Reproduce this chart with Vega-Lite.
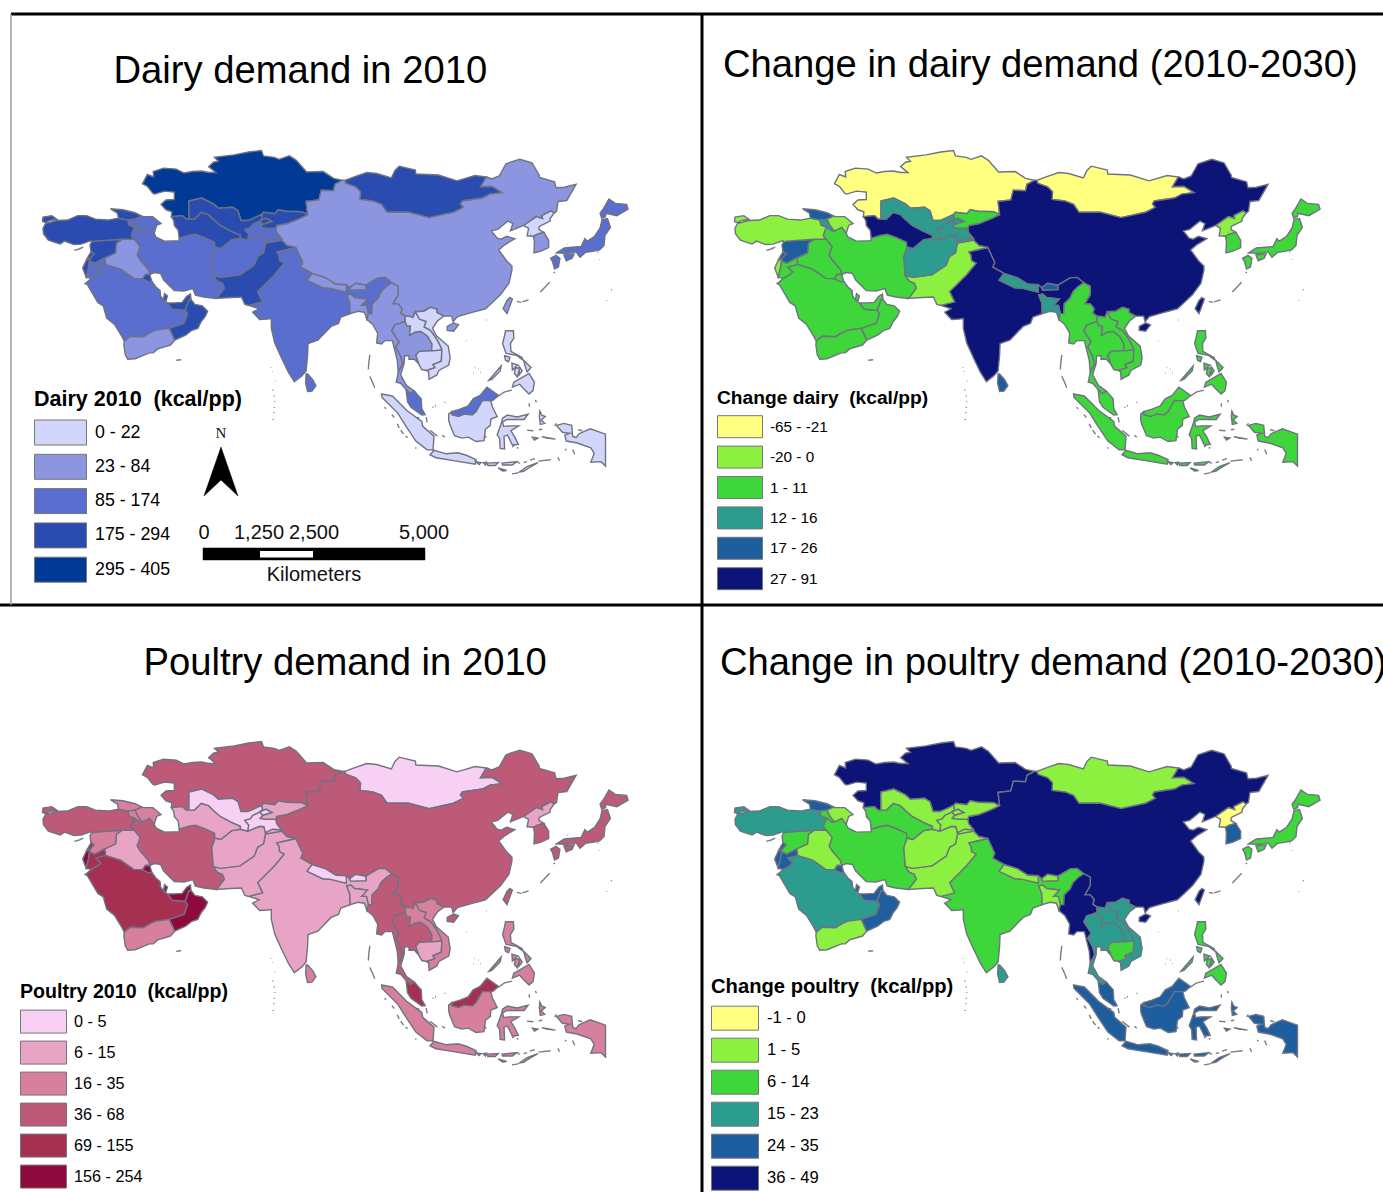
{"$schema":"https://vega.github.io/schema/vega-lite/v6.json","background":"white","padding":0,"spacing":0,"bounds":"flush","columns":2,"resolve":{"scale":{"color":"independent"},"legend":{"color":"independent"}},"config":{"view":{"stroke":null},"font":"Liberation Sans"},
"datasets":{
"countries":[
{"type":"Feature","name":"Kazakhstan","dairy":"295 - 405","dchg":"-65 - -21","poultry":"36 - 68","pchg":"36 - 49","geometry":{"type":"Polygon","coordinates":[[[46.5,48.5],[47.5,50.4],[48.8,49.9],[48.7,51.0],[50.8,51.7],[53.4,51.5],[55.0,50.7],[56.7,51.0],[58.5,51.1],[60.0,50.8],[61.5,50.8],[60.0,52.0],[61.0,52.9],[62.0,53.1],[61.2,53.9],[65.2,54.4],[68.2,55.0],[70.8,55.3],[71.2,54.2],[73.4,53.9],[74.4,53.5],[76.5,54.2],[77.9,53.3],[80.0,50.9],[83.4,51.0],[85.5,49.6],[87.3,49.2],[85.8,48.4],[85.5,47.1],[83.0,47.2],[82.5,45.2],[79.9,44.9],[80.2,42.2],[79.0,42.8],[75.8,42.9],[74.2,43.2],[73.5,42.4],[71.2,42.7],[70.9,42.3],[69.0,41.4],[68.0,41.0],[66.6,41.0],[66.0,43.0],[64.9,43.7],[62.0,43.5],[61.0,44.4],[58.6,45.6],[56.0,45.0],[56.0,41.3],[55.4,41.3],[54.7,42.0],[52.4,41.8],[52.5,42.8],[51.3,43.2],[50.3,44.3],[51.3,45.2],[53.0,45.3],[53.0,46.8],[51.0,47.0],[49.0,46.4],[48.6,46.6],[47.5,48.0],[46.5,48.5]]]}},
{"type":"Feature","name":"Mongolia","dairy":"175 - 294","dchg":"-65 - -21","poultry":"0 - 5","pchg":"1 - 5","geometry":{"type":"Polygon","coordinates":[[[87.8,49.2],[90,50.0],[92.3,50.8],[94.3,50.6],[97.3,49.7],[98.0,51.2],[98.9,52.1],[102.2,51.3],[102.3,50.5],[106.9,50.3],[110.7,49.1],[114.4,50.2],[116.7,49.9],[115.5,47.9],[117.8,48.0],[119.9,46.7],[117.4,46.4],[115.9,45.6],[111.8,45.0],[111.4,44.4],[112.0,43.7],[110.0,42.7],[105.0,41.6],[100.8,42.7],[96.4,42.7],[95.3,44.3],[93.5,45.0],[90.9,45.3],[91.0,46.9],[90.0,47.9],[88.0,48.6],[87.8,49.2]]]}},
{"type":"Feature","name":"China","dairy":"23 - 84","dchg":"27 - 91","poultry":"36 - 68","pchg":"36 - 49","geometry":{"type":"MultiPolygon","coordinates":[[[[87.3,49.2],[87.8,49.2],[88.0,48.6],[90.0,47.9],[91.0,46.9],[90.9,45.3],[93.5,45.0],[95.3,44.3],[96.4,42.7],[100.8,42.7],[105.0,41.6],[110.0,42.7],[112.0,43.7],[111.4,44.4],[111.8,45.0],[115.9,45.6],[117.4,46.4],[119.9,46.7],[117.8,48.0],[115.5,47.9],[116.7,49.9],[117.8,49.5],[119.3,50.1],[120.7,52.6],[123.5,53.5],[126.0,52.8],[127.5,50.2],[127.5,49.8],[130.6,48.9],[130.9,47.7],[132.6,47.8],[135.0,48.4],[133.1,45.1],[131.3,44.9],[131.0,42.9],[130.5,42.5],[129.9,43.0],[128.0,42.0],[128.2,41.4],[126.9,41.8],[124.3,40.0],[121.6,38.9],[122.1,40.4],[121.1,40.9],[119.0,39.2],[117.7,38.9],[118.9,37.4],[119.7,37.2],[120.8,37.8],[122.5,37.3],[120.5,36.1],[119.2,35.0],[120.8,32.8],[121.9,31.7],[121.9,30.9],[121.3,28.2],[119.6,25.9],[118.0,24.4],[116.5,23.0],[113.6,22.2],[110.8,21.4],[109.9,20.4],[109.6,21.5],[108.0,21.5],[106.6,22.2],[106.6,22.9],[105.3,23.3],[103.9,22.5],[102.2,22.4],[101.7,21.2],[101.2,21.4],[100.1,21.5],[99.2,22.1],[99.5,23.0],[98.7,24.0],[97.6,24.0],[98.7,25.9],[98.7,27.6],[97.4,28.3],[96.0,29.4],[94.6,29.3],[92.1,27.8],[90.0,28.2],[88.8,27.3],[88.1,27.9],[86.0,28.0],[83.9,29.3],[81.1,30.2],[78.8,31.5],[79.2,32.5],[78.7,33.5],[77.8,35.5],[76.0,35.9],[74.9,37.0],[74.9,37.3],[73.9,38.5],[73.7,39.4],[73.9,40.0],[76.0,40.4],[78.5,41.4],[80.2,42.2],[79.9,44.9],[82.5,45.2],[83.0,47.2],[85.5,47.1],[85.8,48.4],[87.3,49.2]]],[[[110.0,20.1],[111.0,19.7],[110.0,18.4],[108.7,18.6],[108.7,19.4],[110.0,20.1]]]]}},
{"type":"Feature","name":"India","dairy":"85 - 174","dchg":"27 - 91","poultry":"6 - 15","pchg":"6 - 14","geometry":{"type":"Polygon","coordinates":[[[77.8,35.5],[78.7,33.5],[79.2,32.5],[78.8,31.5],[81.1,30.2],[80.1,28.8],[83.3,27.3],[84.7,27.2],[88.1,26.4],[88.1,27.9],[88.8,27.3],[89.0,26.8],[92.1,26.9],[92.1,27.8],[94.6,29.3],[96.0,29.4],[97.4,28.3],[96.2,27.5],[95.2,26.5],[94.6,25.2],[93.4,24.0],[93.3,22.0],[92.6,22.0],[92.2,23.7],[91.2,23.7],[91.7,24.2],[92.4,25.0],[89.8,25.3],[89.0,26.0],[88.2,25.8],[88.8,24.3],[88.9,22.0],[87.0,21.3],[86.5,20.0],[85.0,19.4],[82.3,16.6],[80.3,15.9],[80.2,13.5],[79.9,10.3],[79.0,9.3],[77.5,8.1],[76.3,10.0],[74.9,12.9],[73.5,16.0],[72.8,19.0],[72.8,21.0],[72.0,20.9],[70.4,20.8],[69.0,22.3],[70.3,23.0],[68.2,23.7],[71.0,24.4],[70.0,26.5],[73.4,29.9],[75.4,32.3],[74.5,32.8],[74.3,34.0],[73.9,34.6],[75.5,35.0],[77.8,35.5]]]}},
{"type":"Feature","name":"Pakistan","dairy":"175 - 294","dchg":"-20 - 0","poultry":"6 - 15","pchg":"1 - 5","geometry":{"type":"Polygon","coordinates":[[[74.9,37.0],[71.6,36.4],[71.2,34.4],[70.0,33.7],[69.3,31.9],[66.4,29.9],[62.5,29.4],[60.9,29.8],[61.8,28.6],[62.8,28.2],[63.2,27.2],[61.6,25.1],[64.5,25.3],[66.7,25.4],[67.4,23.9],[68.2,23.7],[71.0,24.4],[70.0,26.5],[73.4,29.9],[75.4,32.3],[74.5,32.8],[74.3,34.0],[73.9,34.6],[75.5,35.0],[77.8,35.5],[76.0,35.9],[74.9,37.0]]]}},
{"type":"Feature","name":"Afghanistan","dairy":"85 - 174","dchg":"12 - 16","poultry":"6 - 15","pchg":"1 - 5","geometry":{"type":"Polygon","coordinates":[[[74.9,37.3],[73.0,37.4],[71.6,36.7],[71.3,37.9],[70.4,38.0],[68.0,37.0],[66.5,37.4],[64.7,37.1],[62.5,35.3],[61.3,35.6],[60.6,33.6],[60.8,31.5],[60.9,29.8],[62.5,29.4],[66.4,29.9],[69.3,31.9],[70.0,33.7],[71.2,34.4],[71.6,36.4],[74.9,37.0],[74.9,37.3]]]}},
{"type":"Feature","name":"Iran","dairy":"85 - 174","dchg":"1 - 11","poultry":"36 - 68","pchg":"6 - 14","geometry":{"type":"Polygon","coordinates":[[[44.8,39.7],[46.0,38.9],[46.5,38.9],[48.0,39.6],[48.9,38.4],[49.3,37.6],[51.0,36.8],[54.0,36.9],[54.0,37.4],[56.0,38.0],[57.3,38.2],[59.2,37.5],[61.2,36.6],[61.3,35.6],[60.6,33.6],[60.8,31.5],[60.9,29.8],[61.8,28.6],[62.8,28.2],[63.2,27.2],[61.6,25.1],[59.0,25.4],[57.3,25.8],[56.8,27.1],[55.0,26.6],[53.0,26.7],[50.8,28.9],[50.2,30.2],[48.9,30.4],[48.0,30.0],[47.7,31.0],[46.0,33.0],[45.4,34.0],[46.0,35.7],[44.8,37.2],[44.2,37.9],[44.8,39.7]]]}},
{"type":"Feature","name":"Iraq","dairy":"23 - 84","dchg":"1 - 11","poultry":"6 - 15","pchg":"1 - 5","geometry":{"type":"Polygon","coordinates":[[[42.4,37.2],[44.8,37.2],[46.0,35.7],[45.4,34.0],[46.0,33.0],[47.7,31.0],[48.0,30.0],[47.1,30.0],[46.5,29.1],[44.7,29.2],[42.0,31.1],[39.0,32.0],[38.8,33.4],[41.0,34.4],[41.2,36.4],[42.4,37.2]]]}},
{"type":"Feature","name":"Syria","dairy":"175 - 294","dchg":"17 - 26","poultry":"16 - 35","pchg":"6 - 14","geometry":{"type":"Polygon","coordinates":[[[36.7,36.8],[42.4,37.2],[41.2,36.4],[41.0,34.4],[38.8,33.4],[36.8,32.3],[35.8,32.7],[35.8,33.3],[36.6,34.2],[36.0,34.6],[35.8,36.0],[36.1,36.6],[36.7,36.8]]]}},
{"type":"Feature","name":"Jordan","dairy":"85 - 174","dchg":"1 - 11","poultry":"69 - 155","pchg":"24 - 35","geometry":{"type":"Polygon","coordinates":[[[38.8,33.4],[39.0,32.0],[37.0,31.5],[38.0,30.5],[37.5,30.0],[36.1,29.2],[35.0,29.4],[35.5,31.5],[35.6,32.6],[35.8,32.7],[36.8,32.3],[38.8,33.4]]]}},
{"type":"Feature","name":"Israel","dairy":"175 - 294","dchg":"-20 - 0","poultry":"156 - 254","pchg":"24 - 35","geometry":{"type":"Polygon","coordinates":[[[35.6,33.2],[35.8,32.7],[35.6,32.6],[35.5,31.5],[35.0,29.5],[34.3,31.3],[35.0,32.8],[35.6,33.2]]]}},
{"type":"Feature","name":"Lebanon","dairy":"175 - 294","dchg":"17 - 26","poultry":"69 - 155","pchg":"24 - 35","geometry":{"type":"Polygon","coordinates":[[[36.0,34.6],[36.6,34.2],[35.8,33.3],[35.1,33.1],[36.0,34.6]]]}},
{"type":"Feature","name":"Kuwait","dairy":"175 - 294","dchg":"1 - 11","poultry":"156 - 254","pchg":"24 - 35","geometry":{"type":"Polygon","coordinates":[[[47.1,30.0],[48.0,30.0],[48.4,28.6],[47.7,28.5],[46.5,29.1],[47.1,30.0]]]}},
{"type":"Feature","name":"Saudi Arabia","dairy":"85 - 174","dchg":"1 - 11","poultry":"69 - 155","pchg":"15 - 23","geometry":{"type":"Polygon","coordinates":[[[36.1,29.2],[37.5,30.0],[38.0,30.5],[37.0,31.5],[39.0,32.0],[42.0,31.1],[44.7,29.2],[46.5,29.1],[47.7,28.5],[48.4,28.6],[49.2,27.5],[50.1,26.7],[50.2,25.6],[50.8,24.8],[51.6,24.2],[52.6,22.9],[55.2,22.7],[55.7,22.0],[55.0,20.0],[52.0,19.0],[49.1,18.6],[48.2,18.2],[46.7,17.3],[44.0,17.4],[43.2,16.7],[42.8,16.4],[42.2,17.5],[40.8,19.8],[39.2,21.1],[38.5,23.6],[37.4,24.3],[35.2,28.0],[34.8,28.1],[36.1,29.2]]]}},
{"type":"Feature","name":"Yemen","dairy":"23 - 84","dchg":"1 - 11","poultry":"16 - 35","pchg":"1 - 5","geometry":{"type":"Polygon","coordinates":[[[42.8,16.4],[43.2,16.7],[44.0,17.4],[46.7,17.3],[48.2,18.2],[49.1,18.6],[52.0,19.0],[53.1,16.6],[52.2,15.6],[49.6,14.8],[48.7,14.0],[47.9,14.0],[45.0,12.8],[43.5,12.7],[43.0,13.6],[42.7,15.7],[42.8,16.4]]]}},
{"type":"Feature","name":"Oman","dairy":"175 - 294","dchg":"1 - 11","poultry":"156 - 254","pchg":"24 - 35","geometry":{"type":"Polygon","coordinates":[[[56.4,24.9],[57.2,23.9],[58.7,23.6],[59.8,22.5],[59.3,21.4],[58.5,20.4],[57.8,19.0],[56.6,18.6],[55.3,17.6],[53.1,16.6],[52.0,19.0],[55.0,20.0],[55.7,22.0],[55.2,22.7],[56.0,24.9],[56.4,24.9]]]}},
{"type":"Feature","name":"United Arab Emirates","dairy":"175 - 294","dchg":"1 - 11","poultry":"156 - 254","pchg":"24 - 35","geometry":{"type":"Polygon","coordinates":[[[51.6,24.2],[53.0,24.2],[54.6,24.3],[55.5,25.5],[56.3,26.0],[56.4,24.9],[56.0,24.9],[55.2,22.7],[52.6,22.9],[51.6,24.2]]]}},
{"type":"Feature","name":"Qatar","dairy":"175 - 294","dchg":"1 - 11","poultry":"156 - 254","pchg":"24 - 35","geometry":{"type":"Polygon","coordinates":[[[50.8,24.8],[51.0,26.1],[51.6,25.6],[51.3,24.6],[50.8,24.8]]]}},
{"type":"Feature","name":"Turkey","dairy":"175 - 294","dchg":"-20 - 0","poultry":"36 - 68","pchg":"15 - 23","geometry":{"type":"MultiPolygon","coordinates":[[[[26.2,39.4],[26.7,40.4],[29.0,41.0],[31.2,41.1],[33.3,42.0],[35.1,42.0],[36.9,41.3],[39.5,41.1],[41.6,41.5],[43.6,41.1],[43.7,40.1],[44.8,39.7],[44.2,37.9],[44.8,37.2],[42.4,37.2],[36.7,36.8],[36.1,36.6],[36.0,36.9],[34.0,36.2],[32.5,36.1],[30.6,36.8],[29.7,36.2],[28.2,36.7],[27.3,37.0],[26.3,38.3],[26.2,39.4]]],[[[26.1,40.8],[26.2,41.7],[28.0,42.0],[29.0,41.3],[27.5,41.0],[26.7,40.6],[26.1,40.8]]]]}},
{"type":"Feature","name":"Georgia","dairy":"175 - 294","dchg":"17 - 26","poultry":"16 - 35","pchg":"24 - 35","geometry":{"type":"Polygon","coordinates":[[[40.0,43.4],[42.5,43.2],[45.0,42.6],[46.4,41.9],[45.0,41.3],[43.6,41.1],[41.6,41.5],[41.4,42.5],[40.0,43.4]]]}},
{"type":"Feature","name":"Armenia","dairy":"85 - 174","dchg":"12 - 16","poultry":"16 - 35","pchg":"6 - 14","geometry":{"type":"Polygon","coordinates":[[[43.6,41.1],[45.0,41.3],[45.6,40.0],[46.5,38.9],[46.0,38.9],[44.8,39.7],[43.7,40.1],[43.6,41.1]]]}},
{"type":"Feature","name":"Azerbaijan","dairy":"85 - 174","dchg":"-20 - 0","poultry":"16 - 35","pchg":"1 - 5","geometry":{"type":"Polygon","coordinates":[[[45.0,41.3],[46.4,41.9],[46.7,41.8],[48.6,41.8],[50.3,40.4],[49.4,40.0],[48.9,38.4],[48.0,39.6],[46.5,38.9],[45.6,40.0],[45.0,41.3]]]}},
{"type":"Feature","name":"Turkmenistan","dairy":"175 - 294","dchg":"27 - 91","poultry":"6 - 15","pchg":"6 - 14","geometry":{"type":"Polygon","coordinates":[[[52.4,41.8],[54.7,42.0],[55.4,41.3],[56.0,41.3],[57.1,41.3],[58.5,42.7],[60.0,42.2],[61.0,41.2],[62.4,40.0],[64.5,38.9],[66.5,38.0],[66.5,37.4],[64.7,37.1],[62.5,35.3],[61.3,35.6],[61.2,36.6],[59.2,37.5],[57.3,38.2],[56.0,38.0],[54.0,37.4],[53.8,39.0],[53.0,40.0],[52.9,41.0],[52.4,41.8]]]}},
{"type":"Feature","name":"Uzbekistan","dairy":"175 - 294","dchg":"12 - 16","poultry":"0 - 5","pchg":"1 - 5","geometry":{"type":"Polygon","coordinates":[[[56.0,45.0],[58.6,45.6],[61.0,44.4],[62.0,43.5],[64.9,43.7],[66.0,43.0],[66.6,41.0],[68.0,41.0],[69.0,41.4],[70.9,42.3],[71.0,41.2],[70.4,41.0],[71.7,41.5],[73.0,40.8],[71.0,40.2],[70.5,40.9],[69.0,40.2],[68.5,39.5],[67.4,39.2],[68.2,38.2],[68.0,37.0],[66.5,37.4],[66.5,38.0],[64.5,38.9],[62.4,40.0],[61.0,41.2],[60.0,42.2],[58.5,42.7],[57.1,41.3],[56.0,41.3],[56.0,45.0]]]}},
{"type":"Feature","name":"Kyrgyzstan","dairy":"175 - 294","dchg":"1 - 11","poultry":"6 - 15","pchg":"1 - 5","geometry":{"type":"Polygon","coordinates":[[[70.9,42.3],[71.2,42.7],[73.5,42.4],[74.2,43.2],[75.8,42.9],[79.0,42.8],[80.2,42.2],[78.5,41.4],[76.0,40.4],[73.9,40.0],[73.7,39.4],[71.7,39.4],[70.5,39.6],[71.0,40.2],[73.0,40.8],[71.7,41.5],[70.4,41.0],[71.0,41.2],[70.9,42.3]]]}},
{"type":"Feature","name":"Tajikistan","dairy":"85 - 174","dchg":"12 - 16","poultry":"0 - 5","pchg":"1 - 5","geometry":{"type":"Polygon","coordinates":[[[69.0,40.2],[70.5,40.9],[71.0,40.2],[70.5,39.6],[71.7,39.4],[73.7,39.4],[73.9,38.5],[74.9,37.3],[73.0,37.4],[71.6,36.7],[71.3,37.9],[70.4,38.0],[68.0,37.0],[68.2,38.2],[67.4,39.2],[68.5,39.5],[69.0,40.2]]]}},
{"type":"Feature","name":"Nepal","dairy":"23 - 84","dchg":"12 - 16","poultry":"0 - 5","pchg":"1 - 5","geometry":{"type":"Polygon","coordinates":[[[80.1,28.8],[81.1,30.2],[83.9,29.3],[86.0,28.0],[88.1,27.9],[88.1,26.4],[84.7,27.2],[83.3,27.3],[80.1,28.8]]]}},
{"type":"Feature","name":"Bhutan","dairy":"23 - 84","dchg":"17 - 26","poultry":"0 - 5","pchg":"1 - 5","geometry":{"type":"Polygon","coordinates":[[[88.8,27.3],[90.0,28.2],[92.1,27.8],[92.1,26.9],[89.0,26.8],[88.8,27.3]]]}},
{"type":"Feature","name":"Bangladesh","dairy":"23 - 84","dchg":"12 - 16","poultry":"6 - 15","pchg":"1 - 5","geometry":{"type":"Polygon","coordinates":[[[88.2,25.8],[89.0,26.0],[89.8,25.3],[92.4,25.0],[91.7,24.2],[91.2,23.7],[92.2,23.7],[92.6,22.0],[92.3,20.8],[91.8,22.3],[90.5,22.5],[88.9,22.0],[88.8,24.3],[88.2,25.8]]]}},
{"type":"Feature","name":"Sri Lanka","dairy":"85 - 174","dchg":"17 - 26","poultry":"16 - 35","pchg":"15 - 23","geometry":{"type":"Polygon","coordinates":[[[79.9,9.7],[80.2,9.7],[81.2,8.6],[81.9,7.3],[81.1,6.2],[80.2,6.1],[79.8,7.8],[79.9,9.7]]]}},
{"type":"Feature","name":"Myanmar","dairy":"23 - 84","dchg":"1 - 11","poultry":"36 - 68","pchg":"36 - 49","geometry":{"type":"Polygon","coordinates":[[[97.4,28.3],[98.7,27.6],[98.7,25.9],[97.6,24.0],[98.7,24.0],[99.5,23.0],[99.2,22.1],[100.1,21.5],[100.1,20.4],[99.0,20.0],[98.0,19.7],[97.4,18.5],[98.9,16.2],[98.2,15.2],[99.2,13.3],[99.6,11.8],[98.7,10.0],[98.5,12.5],[98.0,14.5],[97.5,16.5],[96.0,16.5],[95.3,15.8],[94.3,16.0],[94.5,18.0],[93.5,19.8],[92.3,20.8],[92.6,22.0],[93.3,22.0],[93.4,24.0],[94.6,25.2],[95.2,26.5],[96.2,27.5],[97.4,28.3]]]}},
{"type":"Feature","name":"Thailand","dairy":"23 - 84","dchg":"1 - 11","poultry":"36 - 68","pchg":"15 - 23","geometry":{"type":"Polygon","coordinates":[[[100.1,20.4],[100.5,19.5],[101.2,19.5],[101.0,17.6],[102.1,18.2],[103.3,18.4],[104.7,17.4],[105.6,15.8],[105.5,14.4],[103.0,14.3],[102.3,13.5],[102.9,11.7],[102.0,12.7],[100.9,12.7],[100.9,13.4],[100.0,13.4],[99.9,11.8],[99.2,9.5],[100.4,7.3],[101.0,6.9],[102.0,6.2],[101.1,5.7],[100.3,6.5],[99.2,7.8],[98.3,8.0],[98.7,10.0],[99.6,11.8],[99.2,13.3],[98.2,15.2],[98.9,16.2],[97.4,18.5],[98.0,19.7],[99.0,20.0],[100.1,20.4]]]}},
{"type":"Feature","name":"Laos","dairy":"0 - 22","dchg":"1 - 11","poultry":"16 - 35","pchg":"15 - 23","geometry":{"type":"Polygon","coordinates":[[[101.2,21.4],[101.7,21.2],[102.2,22.4],[103.0,20.9],[104.4,20.4],[104.0,19.3],[105.1,18.7],[105.6,18.2],[106.7,16.6],[107.5,15.0],[107.6,14.6],[106.0,14.4],[105.5,14.4],[105.6,15.8],[104.7,17.4],[103.3,18.4],[102.1,18.2],[101.0,17.6],[101.2,19.5],[100.5,19.5],[100.1,20.4],[100.1,21.5],[101.2,21.4]]]}},
{"type":"Feature","name":"Cambodia","dairy":"0 - 22","dchg":"1 - 11","poultry":"6 - 15","pchg":"6 - 14","geometry":{"type":"Polygon","coordinates":[[[103.0,14.3],[105.5,14.4],[106.0,14.4],[107.6,14.6],[107.5,12.3],[105.8,11.6],[106.2,11.0],[104.5,10.4],[103.5,10.6],[102.9,11.7],[102.3,13.5],[103.0,14.3]]]}},
{"type":"Feature","name":"Vietnam","dairy":"0 - 22","dchg":"1 - 11","poultry":"16 - 35","pchg":"15 - 23","geometry":{"type":"Polygon","coordinates":[[[102.2,22.4],[103.9,22.5],[105.3,23.3],[106.6,22.9],[106.6,22.2],[108.0,21.5],[106.7,20.5],[105.7,19.0],[106.5,17.5],[108.9,15.4],[109.3,13.0],[109.0,11.5],[107.0,10.4],[106.6,9.5],[105.0,8.6],[104.9,10.1],[104.5,10.4],[106.2,11.0],[105.8,11.6],[107.5,12.3],[107.6,14.6],[107.5,15.0],[106.7,16.6],[105.6,18.2],[105.1,18.7],[104.0,19.3],[104.4,20.4],[103.0,20.9],[102.2,22.4]]]}},
{"type":"Feature","name":"Malaysia","dairy":"85 - 174","dchg":"1 - 11","poultry":"69 - 155","pchg":"24 - 35","geometry":{"type":"MultiPolygon","coordinates":[[[[100.3,6.5],[101.1,5.7],[102.0,6.2],[103.4,4.6],[103.5,2.6],[104.2,1.4],[103.5,1.3],[101.3,2.9],[100.6,4.0],[100.3,6.5]]],[[[109.6,2.0],[111.3,2.5],[113.0,3.2],[114.0,4.6],[115.4,5.3],[116.8,7.0],[119.2,5.3],[118.0,4.3],[117.6,4.2],[115.9,4.3],[114.6,2.0],[113.8,1.3],[112.2,1.5],[111.0,1.0],[109.6,1.4],[109.6,2.0]]]]}},
{"type":"Feature","name":"Indonesia","dairy":"0 - 22","dchg":"1 - 11","poultry":"16 - 35","pchg":"24 - 35","geometry":{"type":"MultiPolygon","coordinates":[[[[109.0,1.5],[109.6,2.0],[109.6,1.4],[111.0,1.0],[112.2,1.5],[113.8,1.3],[114.6,2.0],[115.9,4.3],[117.6,4.2],[117.9,3.0],[118.9,1.0],[117.6,0.5],[117.5,-0.8],[116.5,-1.6],[116.2,-3.9],[114.6,-4.1],[113.0,-3.2],[111.7,-3.4],[110.2,-2.9],[109.2,-0.5],[109.0,0.3],[109.0,1.5]]],[[[95.3,5.6],[97.5,5.2],[100.4,2.3],[103.5,0.0],[103.7,-1.0],[106.0,-3.0],[105.8,-5.8],[104.6,-5.8],[102.3,-4.0],[100.3,-1.0],[98.6,1.7],[95.4,4.9],[95.3,5.6]]],[[[105.2,-6.8],[106.0,-5.9],[108.5,-6.6],[110.9,-6.4],[112.6,-6.9],[114.6,-7.8],[114.4,-8.7],[110.0,-8.0],[106.4,-7.4],[105.2,-6.8]]],[[[120.0,0.7],[121.0,1.3],[123.0,0.9],[125.2,1.5],[124.4,0.4],[120.9,0.4],[120.0,-0.1],[120.2,-1.0],[121.5,-0.9],[123.3,-0.9],[121.7,-1.9],[122.5,-3.2],[123.2,-4.7],[122.0,-4.8],[121.0,-2.8],[120.3,-3.0],[120.4,-5.6],[119.5,-5.5],[119.4,-3.5],[118.9,-2.7],[119.8,-0.2],[120.0,0.7]]],[[[114.5,-8.2],[115.6,-8.4],[115.2,-8.8],[114.5,-8.2]]],[[[116,-8.4],[116.7,-8.3],[116.5,-8.9],[116,-8.4]]],[[[116.8,-8.5],[119.1,-8.4],[118.5,-9.0],[117,-9.0],[116.8,-8.5]]],[[[119.9,-8.5],[122.9,-8.2],[122,-8.9],[120,-8.9],[119.9,-8.5]]],[[[123.5,-10.3],[125.0,-9.2],[127.2,-8.4],[125.5,-9.4],[124.3,-10.2],[123.5,-10.3]]],[[[119.1,-9.5],[120.8,-10.0],[120,-10.1],[119.1,-9.5]]],[[[127.6,2.1],[128.0,1.3],[128.7,1.0],[127.9,0.3],[128.6,-0.4],[127.7,-0.6],[127.5,1.0],[127.6,2.1]]],[[[128,-3.1],[130.8,-3.6],[129,-3.4],[128,-3.1]]],[[[126.1,-3.2],[127.2,-3.4],[126.5,-3.8],[126.1,-3.2]]],[[[131,-0.8],[132.5,-0.4],[134.1,-0.8],[134.3,-3.0],[135.0,-3.3],[135.6,-2.5],[137.9,-1.5],[141.0,-2.6],[141.0,-9.1],[140.1,-8.2],[138.0,-8.3],[138.7,-6.5],[138,-5.4],[135.2,-4.4],[133,-4.0],[132.7,-2.8],[133.7,-2.4],[132.2,-2.2],[131,-0.8]]]]}},
{"type":"Feature","name":"Philippines","dairy":"0 - 22","dchg":"1 - 11","poultry":"16 - 35","pchg":"6 - 14","geometry":{"type":"MultiPolygon","coordinates":[[[[120.6,18.5],[122.2,18.5],[122.3,17.0],[121.6,15.9],[121.7,14.3],[124.0,13.0],[124,12.6],[122.8,13.5],[120.7,13.9],[120.0,15.9],[120.4,17.5],[120.6,18.5]]],[[[122.0,7.0],[122.3,8.0],[123.5,8.7],[125.4,9.8],[126.5,8.0],[126.2,6.3],[125.4,5.6],[124.1,6.9],[123.5,7.6],[122.0,7.0]]],[[[124.3,12.5],[125.8,11.0],[125.0,10.1],[124.6,11.3],[124.3,12.5]]],[[[122.6,10.9],[123.5,10.9],[123.0,9.1],[122.4,9.8],[122.6,10.9]]],[[[121.9,11.9],[123.1,11.5],[122.0,10.5],[121.9,11.9]]],[[[123.4,11.2],[124.0,10.3],[123.4,9.5],[123.4,11.2]]],[[[120.4,13.4],[121.5,13.1],[121.2,12.2],[120.6,12.5],[120.4,13.4]]],[[[117.2,8.4],[119.7,11.3],[119.5,10.3],[117.8,8.6],[117.2,8.4]]]]}},
{"type":"Feature","name":"Japan","dairy":"85 - 174","dchg":"1 - 11","poultry":"36 - 68","pchg":"6 - 14","geometry":{"type":"MultiPolygon","coordinates":[[[[131.0,34.4],[132.6,35.4],[136.0,35.7],[136.8,37.3],[137.3,36.8],[138.8,37.8],[139.9,39.5],[140.3,41.2],[141.4,41.4],[142.0,39.6],[140.9,38.0],[140.7,35.9],[139.8,35.0],[138.3,34.7],[136.9,34.5],[135.8,33.5],[135.0,34.6],[133.0,34.3],[131.0,34.4]]],[[[140.2,41.5],[139.9,42.5],[140.5,43.3],[141.7,45.4],[143.0,44.5],[145.3,44.3],[145.6,43.3],[143.3,42.0],[141.1,42.5],[141.0,41.8],[140.2,41.5]]],[[[132.5,34.0],[134.6,34.2],[134.2,33.3],[133.0,32.8],[132.5,34.0]]],[[[130.9,33.9],[131.7,33.3],[131.4,31.5],[130.6,31.1],[130.2,32.6],[129.8,33.3],[130.9,33.9]]]]}},
{"type":"Feature","name":"North Korea","dairy":"0 - 22","dchg":"-20 - 0","poultry":"6 - 15","pchg":"-1 - 0","geometry":{"type":"Polygon","coordinates":[[[124.3,40.0],[126.9,41.8],[128.2,41.4],[128.0,42.0],[129.9,43.0],[130.5,42.5],[129.7,41.4],[129.7,40.9],[127.5,39.8],[127.4,39.2],[128.4,38.6],[127.0,38.2],[126.3,37.8],[125.0,37.9],[125.3,39.4],[124.3,40.0]]]}},
{"type":"Feature","name":"South Korea","dairy":"23 - 84","dchg":"1 - 11","poultry":"36 - 68","pchg":"24 - 35","geometry":{"type":"Polygon","coordinates":[[[126.3,37.8],[127.0,38.2],[128.4,38.6],[129.4,37.0],[129.4,35.5],[127.7,34.7],[126.4,34.4],[126.5,36.7],[126.3,37.8]]]}},
{"type":"Feature","name":"Taiwan","dairy":"23 - 84","dchg":"27 - 91","poultry":"36 - 68","pchg":"36 - 49","geometry":{"type":"Polygon","coordinates":[[[121.5,25.3],[122.0,25.0],[120.9,22.0],[120.1,23.0],[120.9,24.7],[121.5,25.3]]]}}
],
"specks":[
{"type":"Feature","name":"Cyprus","geometry":{"type":"LineString","coordinates":[[32.6,34.9],[33.6,35.2],[34.4,35.6]]}},
{"type":"Feature","name":"Socotra","geometry":{"type":"LineString","coordinates":[[53.4,12.5],[54.4,12.6]]}},
{"type":"Feature","name":"Andaman","geometry":{"type":"LineString","coordinates":[[92.9,13.6],[92.7,12.0],[92.6,10.6]]}},
{"type":"Feature","name":"Nicobar","geometry":{"type":"LineString","coordinates":[[92.9,9.2],[93.5,7.9],[93.9,6.9]]}},
{"type":"Feature","name":"Maldives","geometry":{"type":"MultiLineString","coordinates":[[[73.1,6.5],[73.1,6.3]],[[73.4,5.3],[73.4,5.1]],[[73.5,4.2],[73.5,4.0]],[[73.4,3.0],[73.4,2.8]],[[73.3,1.9],[73.3,1.7]],[[73.2,0.5],[73.2,0.3]]]}},
{"type":"Feature","name":"Mentawai","geometry":{"type":"MultiLineString","coordinates":[[[96.2,2.6],[95.9,2.9]],[[97.4,1.4],[97.9,0.8]],[[98.5,-0.5],[98.9,-1.3]],[[99.2,-1.8],[99.8,-2.6]],[[100.2,-3.0],[100.6,-3.3]],[[102.2,-5.3],[102.4,-5.5]]]}},
{"type":"Feature","name":"Bangka","geometry":{"type":"MultiLineString","coordinates":[[[105.2,-1.8],[106.7,-3.0]],[[107.7,-2.8],[108.2,-3.2]],[[104.4,0.9],[104.6,-0.2]],[[102.5,0.8],[103.0,0.7]]]}},
{"type":"Feature","name":"Natuna","geometry":{"type":"MultiLineString","coordinates":[[[108.1,3.9],[108.3,3.9]],[[106.2,3.2],[106.4,3.2]],[[105.7,2.9],[105.9,2.9]]]}},
{"type":"Feature","name":"Ryukyu","geometry":{"type":"MultiLineString","coordinates":[[[130.4,30.3],[130.7,30.5]],[[129.6,28.4],[127.7,26.4]],[[124.0,24.4],[125.3,24.8]],[[122.9,24.5],[123.8,24.3]]]}},
{"type":"Feature","name":"Pacific","geometry":{"type":"MultiLineString","coordinates":[[[141.3,24.8],[141.3,24.7]],[[142.2,27.0],[142.2,26.8]],[[139.8,33.1],[139.8,33.0]],[[139.4,34.7],[139.4,34.5]],[[133.2,36.2],[133.3,36.2]]]}},
{"type":"Feature","name":"Sulu","geometry":{"type":"MultiLineString","coordinates":[[[119.2,5.2],[120.3,6.0],[121.9,6.4]],[[126.7,4.4],[126.9,3.9]],[[125.4,3.7],[125.5,3.0]],[[116.7,-3.3],[116.1,-2.6]],[[122.9,-5.3],[123.2,-5.5]],[[121.9,-5.2],[122.4,-4.9]]]}},
{"type":"Feature","name":"Moluccas","geometry":{"type":"MultiLineString","coordinates":[[[134.3,-5.7],[134.7,-6.7]],[[132.8,-5.6],[133.0,-5.9]],[[131.3,-7.3],[131.6,-8.0]],[[129.8,-7.8],[127.3,-8.1]],[[126.6,-7.6],[125.6,-7.9]],[[124.3,-8.4],[125.0,-8.2]],[[123.0,-8.4],[123.6,-8.5]],[[135.4,-1.7],[136.3,-1.9]],[[130.6,-0.9],[131.0,-0.4]],[[127.4,-1.7],[128.1,-1.6]],[[125.0,-1.8],[126.3,-1.9]],[[121.9,-10.7],[123.2,-10.5]]]}},
{"type":"Feature","name":"South China Sea","geometry":{"type":"MultiLineString","coordinates":[[[114.3,11.0],[114.4,11.0]],[[115.0,10.7],[115.1,10.7]],[[114.0,9.9],[114.1,9.9]],[[115.4,10.0],[115.5,10.0]],[[112.5,16.5],[112.6,16.5]],[[116.7,20.7],[116.8,20.7]]]}},
{"type":"Feature","name":"Lakshadweep","geometry":{"type":"MultiLineString","coordinates":[[[72.7,11.0],[72.7,10.9]],[[73.0,10.2],[73.0,10.1]],[[73.6,8.3],[73.6,8.2]]]}}
],
"arrow":[{"type":"Feature","name":"north arrow","geometry":{"type":"Polygon","coordinates":[[[62.53,-5.21],[66.0,-15.21],[62.53,-11.95],[59.06,-15.21],[62.53,-5.21]]]}}],
"barBlack":[{"type":"Feature","name":"scale bar","geometry":{"type":"Polygon","coordinates":[[[58.86,-25.82],[104.16,-25.82],[104.16,-28.27],[58.86,-28.27],[58.86,-25.82]]]}}],
"barWhite":[{"type":"Feature","name":"scale bar gap","geometry":{"type":"Polygon","coordinates":[[[70.49,-26.44],[81.31,-26.44],[81.31,-27.77],[70.49,-27.77],[70.49,-26.44]]]}}]
},
"concat":[
{"width":692,"height":591,
 "title":{"text":"Dairy demand in 2010","frame":"group","anchor":"start","align":"left","baseline":"middle","dx":113.5,"offset":-110,"fontSize":38.2,"fontWeight":"normal","font":"Liberation Sans","color":"#000000"},
 "projection":{"type":"identity","reflectY":true,"scale":4.9,"translate":[-85.4,421.46]},
 "layer":[
  {"data":{"name":"specks"},"mark":{"type":"geoshape","filled":false,"stroke":"#7a7c84","strokeWidth":1.4},"encoding":{}},
  {"data":{"name":"countries"},"mark":{"type":"geoshape","stroke":"#6f7280","strokeWidth":1.4},
   "encoding":{"color":{"field":"dairy","type":"nominal","scale":{"domain":["0 - 22","23 - 84","85 - 174","175 - 294","295 - 405"],"range":["#d3d6fb","#8c95e0","#5a6ecf","#2a4cb0","#003a96"]},
    "legend":{"orient":"none","legendX":34,"legendY":389,"title":"Dairy 2010\u00a0 (kcal/pp)","titleFont":"Liberation Sans","titleFontSize":21.5,"titleFontWeight":"bold","titleColor":"#000000","titleLimit":400,"titlePadding":9,"labelFont":"Liberation Sans","labelFontSize":17.8,"labelColor":"#000000","labelOffset":21.5,"symbolType":"M-2.08,-1H2.08V1H-2.08Z","symbolSize":625,"symbolStrokeColor":"#777777","symbolStrokeWidth":1,"symbolOffset":13.5,"rowPadding":4.3,"padding":0}}}},
  {"data":{"name":"arrow"},"mark":{"type":"geoshape","fill":"#000000","stroke":"#000000","strokeWidth":0.5},"encoding":{}},
  {"data":{"name":"barBlack"},"mark":{"type":"geoshape","fill":"#000000","stroke":"#000000","strokeWidth":0.5},"encoding":{}},
  {"data":{"name":"barWhite"},"mark":{"type":"geoshape","fill":"#ffffff","stroke":null},"encoding":{}},
  {"data":{"values":[{"label":"0","lon":59.06,"lat":-22.76},{"label":"1,250","lon":70.29,"lat":-22.76},{"label":"2,500","lon":81.51,"lat":-22.76},{"label":"5,000","lon":103.96,"lat":-22.76},{"label":"Kilometers","lon":81.51,"lat":-31.33}]},"mark":{"type":"text","font":"Liberation Sans","fontSize":20,"color":"#111111","baseline":"middle"},"encoding":{"longitude":{"field":"lon","type":"quantitative"},"latitude":{"field":"lat","type":"quantitative"},"text":{"field":"label","type":"nominal"}}},
  {"data":{"values":[{"label":"N","lon":62.53,"lat":-2.35}]},"mark":{"type":"text","font":"Liberation Serif","fontSize":15,"color":"#111111","baseline":"middle"},"encoding":{"longitude":{"field":"lon","type":"quantitative"},"latitude":{"field":"lat","type":"quantitative"},"text":{"field":"label","type":"nominal"}}},
  {"data":{"values":[{"type":"Feature","name":"top","geometry":{"type":"LineString","coordinates":[[19.67,83.16],[158.65,83.16]]}}]},"mark":{"type":"geoshape","filled":false,"stroke":"#000000","strokeWidth":3},"encoding":{}},
  {"data":{"values":[{"type":"Feature","name":"left","geometry":{"type":"LineString","coordinates":[[19.67,83.16],[19.67,-34.6]]}}]},"mark":{"type":"geoshape","filled":false,"stroke":"#9a9a9a","strokeWidth":1.5},"encoding":{}}
 ]},
{"width":692,"height":591,
 "title":{"text":"Change in dairy demand (2010-2030)","frame":"group","anchor":"start","align":"left","baseline":"middle","dx":31,"offset":-104,"fontSize":38.2,"fontWeight":"normal","font":"Liberation Sans","color":"#000000"},
 "projection":{"type":"identity","reflectY":true,"scale":4.9,"translate":[-85.4,421.46]},
 "layer":[
  {"data":{"name":"specks"},"mark":{"type":"geoshape","filled":false,"stroke":"#7a7c84","strokeWidth":1.4},"encoding":{}},
  {"data":{"name":"countries"},"mark":{"type":"geoshape","stroke":"#6f7280","strokeWidth":1.4},
   "encoding":{"color":{"field":"dchg","type":"nominal","scale":{"domain":["-65 - -21","-20 - 0","1 - 11","12 - 16","17 - 26","27 - 91"],"range":["#ffff80","#8cf040","#3ed63a","#2c9c8e","#1f5e9e","#0c1478"]},
    "legend":{"orient":"none","legendX":25,"legendY":389,"title":"Change dairy\u00a0 (kcal/pp)","titleFont":"Liberation Sans","titleFontSize":19.2,"titleFontWeight":"bold","titleColor":"#000000","titleLimit":400,"titlePadding":7,"labelFont":"Liberation Sans","labelFontSize":15.3,"labelColor":"#000000","labelOffset":18.5,"symbolType":"M-2.045,-1H2.045V1H-2.045Z","symbolSize":484,"symbolStrokeColor":"#777777","symbolStrokeWidth":1,"symbolOffset":11.5,"rowPadding":3.4,"padding":0}}}},
  {"data":{"values":[{"type":"Feature","name":"top","geometry":{"type":"LineString","coordinates":[[17.43,83.16],[158.45,83.16]]}},{"type":"Feature","name":"divider","geometry":{"type":"LineString","coordinates":[[19.47,83.16],[19.47,-34.6]]}}]},"mark":{"type":"geoshape","filled":false,"stroke":"#000000","strokeWidth":3},"encoding":{}}
 ]},
{"width":692,"height":601,
 "title":{"text":"Poultry demand in 2010","frame":"group","anchor":"start","align":"left","baseline":"middle","dx":143.5,"offset":-111,"fontSize":38.2,"fontWeight":"normal","font":"Liberation Sans","color":"#000000"},
 "projection":{"type":"identity","reflectY":true,"scale":4.9,"translate":[-85.4,421.46]},
 "layer":[
  {"data":{"name":"specks"},"mark":{"type":"geoshape","filled":false,"stroke":"#7a7c84","strokeWidth":1.4},"encoding":{}},
  {"data":{"name":"countries"},"mark":{"type":"geoshape","stroke":"#6f7280","strokeWidth":1.4},
   "encoding":{"color":{"field":"poultry","type":"nominal","scale":{"domain":["0 - 5","6 - 15","16 - 35","36 - 68","69 - 155","156 - 254"],"range":["#f8d0f4","#e8a4c4","#d6809e","#bd5a78","#a63052","#8f0a3c"]},
    "legend":{"orient":"none","legendX":20,"legendY":392,"title":"Poultry 2010\u00a0 (kcal/pp)","titleFont":"Liberation Sans","titleFontSize":19.6,"titleFontWeight":"bold","titleColor":"#000000","titleLimit":400,"titlePadding":7,"labelFont":"Liberation Sans","labelFontSize":16.2,"labelColor":"#000000","labelOffset":18.5,"symbolType":"M-2,-1H2V1H-2Z","symbolSize":529,"symbolStrokeColor":"#777777","symbolStrokeWidth":1,"symbolOffset":11.5,"rowPadding":3,"padding":0}}}},
  {"data":{"values":[{"type":"Feature","name":"divider","geometry":{"type":"LineString","coordinates":[[17.43,83.16],[158.65,83.16]]}}]},"mark":{"type":"geoshape","filled":false,"stroke":"#000000","strokeWidth":3},"encoding":{}},
  {"data":{"values":[{"type":"Feature","name":"left","geometry":{"type":"LineString","coordinates":[[19.67,86.01],[19.67,83.16]]}}]},"mark":{"type":"geoshape","filled":false,"stroke":"#9a9a9a","strokeWidth":1.5},"encoding":{}}
 ]},
{"width":692,"height":601,
 "title":{"text":"Change in poultry demand (2010-2030)","frame":"group","anchor":"start","align":"left","baseline":"middle","dx":28,"offset":-111,"fontSize":38.2,"fontWeight":"normal","font":"Liberation Sans","color":"#000000"},
 "projection":{"type":"identity","reflectY":true,"scale":4.9,"translate":[-85.4,421.46]},
 "layer":[
  {"data":{"name":"specks"},"mark":{"type":"geoshape","filled":false,"stroke":"#7a7c84","strokeWidth":1.4},"encoding":{}},
  {"data":{"name":"countries"},"mark":{"type":"geoshape","stroke":"#6f7280","strokeWidth":1.4},
   "encoding":{"color":{"field":"pchg","type":"nominal","scale":{"domain":["-1 - 0","1 - 5","6 - 14","15 - 23","24 - 35","36 - 49"],"range":["#ffff80","#8cf040","#3ed63a","#2c9c8e","#1f5e9e","#0c1478"]},
    "legend":{"orient":"none","legendX":19,"legendY":386,"title":"Change poultry\u00a0 (kcal/pp)","titleFont":"Liberation Sans","titleFontSize":20.2,"titleFontWeight":"bold","titleColor":"#000000","titleLimit":400,"titlePadding":8.5,"labelFont":"Liberation Sans","labelFontSize":16.6,"labelColor":"#000000","labelOffset":19.5,"symbolType":"M-1.96,-1H1.96V1H-1.96Z","symbolSize":576,"symbolStrokeColor":"#777777","symbolStrokeWidth":1,"symbolOffset":11.5,"rowPadding":3,"padding":0}}}},
  {"data":{"values":[{"type":"Feature","name":"divider top","geometry":{"type":"LineString","coordinates":[[17.43,83.16],[158.45,83.16]]}},{"type":"Feature","name":"divider","geometry":{"type":"LineString","coordinates":[[19.47,86.01],[19.47,-36.64]]}}]},"mark":{"type":"geoshape","filled":false,"stroke":"#000000","strokeWidth":3},"encoding":{}}
 ]}
]}
